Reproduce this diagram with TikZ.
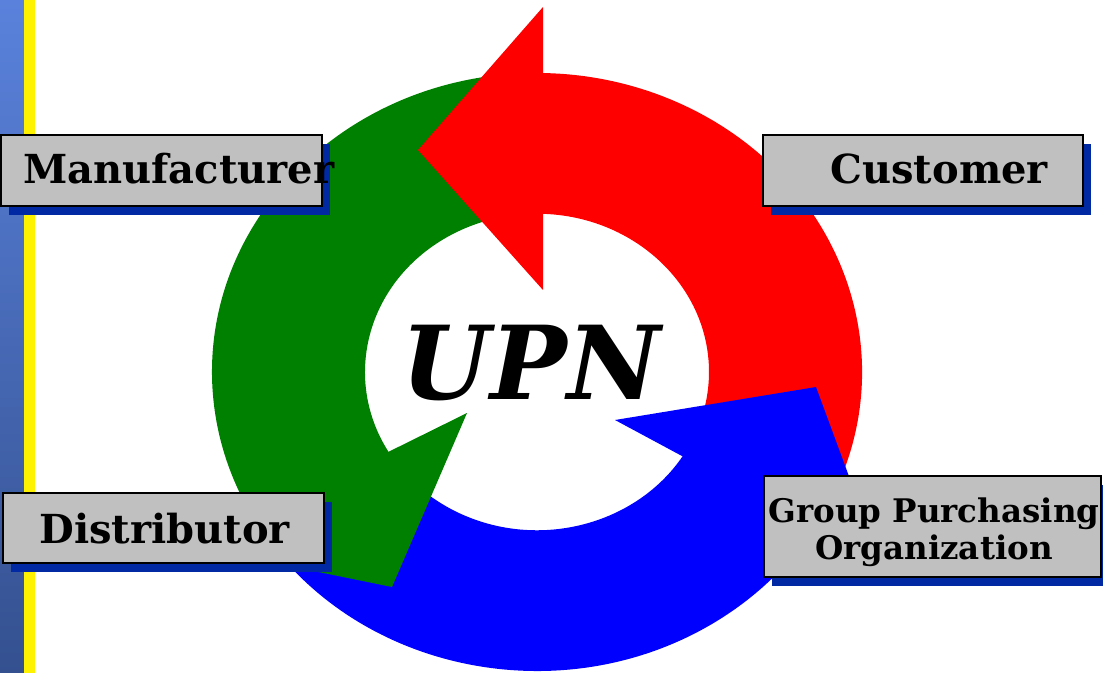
\documentclass[tikz,border=0pt]{standalone}
\usepackage{fontspec}
\setmainfont{DejaVu Serif}
\usepackage{tikz}
\usetikzlibrary{shadows}
\definecolor{boxgray}{HTML}{C0C0C0}
\definecolor{shade}{HTML}{0029A3}
\definecolor{bartop}{HTML}{5A82DC}
\definecolor{barbot}{HTML}{34508F}
\definecolor{cycred}{HTML}{FF0000}
\definecolor{cycgreen}{HTML}{008000}
\definecolor{cycblue}{HTML}{0000FF}

\begin{document}
\begin{tikzpicture}[x=0.5pt,y=0.5pt,
   tag/.style={draw=black,line width=1.2pt,fill=boxgray,inner sep=0pt,
      drop shadow={shadow xshift=4pt,shadow yshift=-4.5pt,fill=shade,opacity=1}},
   tagtext/.style={font=\bfseries\fontsize{20}{24}\selectfont,inner sep=0pt}]
  \useasboundingbox (0,0) rectangle (1103,-673);
  \shade[top color=bartop,bottom color=barbot] (0,0) rectangle (24,-673);
  \fill[yellow] (24,0) rectangle (35,-673);
  \begin{scope}[shift={(537,-372)},yscale=0.92]
    \foreach \r/\c in {0/cycred,-120/cycblue,120/cycgreen}
      \fill[\c,rotate=\r] (-25:325) arc[start angle=-25,end angle=93,radius=325]
         -- (93:172) arc[start angle=93,end angle=-25,radius=172] -- cycle;
  \end{scope}
  \foreach \c/\a/\b/\t in {cycred/{543,-7}/{543,-290}/{418,-150},
                           cycblue/{615,-420}/{881,-563}/{816,-387},
                           cycgreen/{467,-413}/{196,-547}/{392,-587}}
    \fill[\c] (\a) -- (\b) -- (\t) -- cycle;
  \node[font=\bfseries\itshape\fontsize{51}{60}\selectfont,inner sep=0pt,anchor=base]
     (upn) at (531,-400) {UPN};
  \node[tag,minimum width=160.3pt,minimum height=35.3pt] (manu) at (161.5,-170.5) {};
  \node[tagtext,anchor=base west] (manutxt) at (23,-184) {Manufacturer};
  \node[tag,minimum width=159.8pt,minimum height=35.3pt] (cust) at (923,-170.5) {};
  \node[tagtext,anchor=base west] (custtxt) at (830,-184) {Customer};
  \node[tag,minimum width=160.3pt,minimum height=34.8pt] (dist) at (163.5,-528) {};
  \node[tagtext,anchor=base west] (disttxt) at (39,-544) {Distributor};
  \node[tag,minimum width=168.3pt,minimum height=50.3pt] (gpo) at (932.5,-526.5) {};
  \node[tagtext,font=\bfseries\fontsize{16.25}{18.5}\selectfont,align=center]
     (gpotxt) at (934,-532) {Group Purchasing\\Organization};
\end{tikzpicture}
\end{document}
